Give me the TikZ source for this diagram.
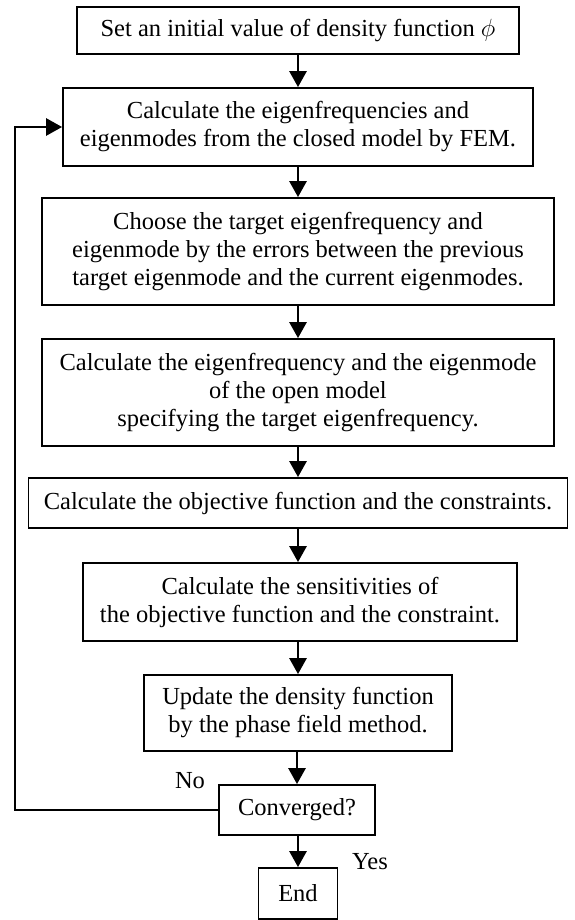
\documentclass[tikz,border=0pt]{standalone}
\usepackage{fontspec}
\setmainfont{Liberation Serif}
\usetikzlibrary{arrows.meta}
\begin{document}
\begin{tikzpicture}[x=1pt,y=-1pt,
 box/.style={draw, line width=1.8pt, inner sep=0pt, align=center, font=\fontsize{24.5}{28}\selectfont},
 flow/.style={line width=2.8pt, -{Triangle[width=17pt,length=16pt]}},
 lbl/.style={font=\fontsize{24.5}{28}\selectfont, inner sep=0pt}]
\useasboundingbox (0,0) rectangle (574,920);
\node[box, minimum width=442pt, minimum height=47pt] (b1) at (298,30.5) {Set an initial value of density function $\phi$};
\node[box, minimum width=470pt, minimum height=78pt] (b2) at (298,127) {Calculate the eigenfrequencies and\\eigenmodes from the closed model by FEM.};
\node[box, minimum width=512pt, minimum height=107pt] (b3) at (298,251.5) {Choose the target eigenfrequency and\\eigenmode by the errors between the previous\\target eigenmode and the current eigenmodes.};
\node[box, minimum width=512pt, minimum height=107pt] (b4) at (298,392.5) {Calculate the eigenfrequency and the eigenmode\\of the open model\\specifying the target eigenfrequency.};
\node[box, minimum width=539pt, minimum height=50pt] (b5) at (298,503) {Calculate the objective function and the constraints.};
\node[box, minimum width=434pt, minimum height=78pt] (b6) at (300,602) {Calculate the sensitivities of\\the objective function and the constraint.};
\node[box, minimum width=308pt, minimum height=76pt] (b7) at (298,713) {Update the density function\\by the phase field method.};
\node[box, minimum width=156pt, minimum height=50pt] (conv) at (297,810) {Converged?};
\node[box, minimum width=79pt, minimum height=51pt] (end) at (298,893.5) {End};
\draw[flow] (b1) -- (b2);
\draw[flow] (b2) -- (b3);
\draw[flow] (b3) -- (b4);
\draw[flow] (b4) -- (b5);
\draw[flow] (b5.south -| b1.south) -- (b6.north -| b1.south);
\draw[flow] (b6.south -| b1.south) -- (b7);
\draw[flow] (b7.south -| conv.north) -- (conv.north);
\draw[flow] (conv.south -| end.north) -- (end.north);
\coordinate (fb) at (15,810);
\draw[flow] (conv.west) -- (fb) |- (b2.west);
\node[lbl] (no) at (190,781) {No};
\node[lbl] (yes) at (370,862) {Yes};
\end{tikzpicture}
\end{document}
